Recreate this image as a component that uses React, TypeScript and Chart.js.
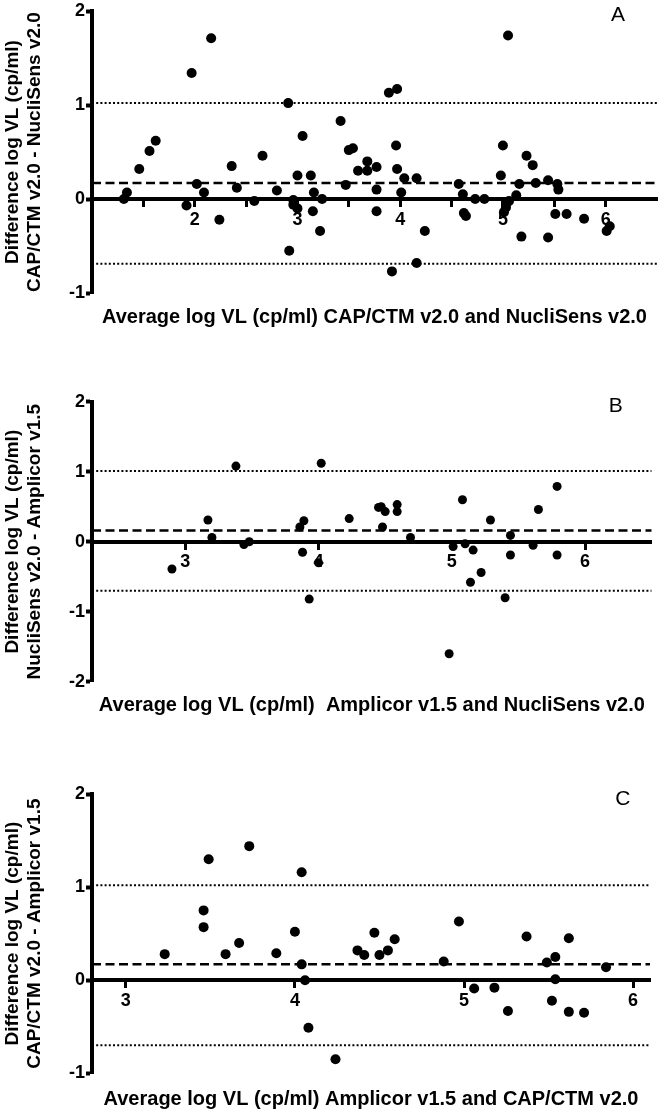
import React, { useEffect, useRef } from "react";
import { Chart, registerables } from "chart.js";

Chart.register(...registerables);

const FONT = "'Liberation Sans', Arial, Helvetica, sans-serif";

// ---------- Panel A: CAP/CTM v2.0 vs NucliSens v2.0 ----------
const aAvg = [1.31, 1.34, 1.46, 1.56, 1.62, 1.92, 1.97, 2.02, 2.09, 2.16, 2.24, 2.36, 2.41, 2.58, 2.66, 2.8, 2.91, 2.92, 2.96, 2.96, 3.0, 3.0, 3.05, 3.13, 3.15, 3.16, 3.22, 3.24, 3.42, 3.47, 3.5, 3.54, 3.59, 3.68, 3.68, 3.77, 3.77, 3.77, 3.89, 3.97, 3.96, 3.97, 4.04, 4.01, 4.16, 3.92, 4.16, 4.24, 4.57, 4.61, 4.62, 4.64, 4.73, 4.82, 4.98, 5.0, 5.05, 5.06, 5.04, 5.03, 5.01, 5.13, 5.16, 5.18, 5.23, 5.29, 5.32, 5.44, 5.44, 5.53, 5.54, 5.51, 5.62, 5.79, 6.01, 6.04];
const aDiff = [0.0, 0.07, 0.32, 0.51, 0.62, -0.07, 1.34, 0.16, 0.07, 1.71, -0.22, 0.35, 0.12, -0.02, 0.46, 0.09, 1.02, -0.55, -0.01, -0.06, -0.1, 0.25, 0.67, 0.25, -0.13, 0.07, -0.34, 0.0, 0.83, 0.15, 0.52, 0.54, 0.3, 0.4, 0.3, 0.34, 0.1, -0.13, 1.13, 1.17, 0.57, 0.32, 0.22, 0.07, 0.22, -0.77, -0.68, -0.34, 0.16, 0.05, -0.15, -0.18, 0.0, 0.0, 0.25, 0.57, 1.74, -0.02, -0.04, -0.09, -0.14, 0.04, 0.16, -0.4, 0.46, 0.36, 0.17, 0.2, -0.41, 0.16, 0.1, -0.16, -0.16, -0.21, -0.34, -0.29];
const aLimits = [0.17, 1.02, -0.69]; // mean difference, upper and lower limits of agreement
const aXRange = [1, 6.5];
const aYRange = [-1, 2];
const aYTitle = ["Difference log VL (cp/ml)", "CAP/CTM v2.0 - NucliSens v2.0"];
const aXTitle = "Average log VL (cp/ml) CAP/CTM v2.0 and NucliSens v2.0";

// ---------- Panel B: NucliSens v2.0 vs Amplicor v1.5 ----------
const bAvg = [2.9, 3.17, 3.2, 3.38, 3.44, 3.48, 3.86, 3.89, 3.88, 4.0, 3.93, 4.02, 4.23, 4.45, 4.47, 4.5, 4.48, 4.59, 4.59, 4.69, 5.01, 5.08, 5.1, 5.16, 5.14, 5.22, 4.98, 5.29, 5.4, 5.44, 5.44, 5.61, 5.65, 5.79, 5.79];
const bDiff = [-0.39, 0.31, 0.06, 1.08, -0.04, 0.0, 0.21, 0.3, -0.15, -0.3, -0.82, 1.12, 0.33, 0.49, 0.5, 0.43, 0.21, 0.53, 0.43, 0.06, -0.07, 0.6, -0.03, -0.12, -0.58, -0.44, -1.6, 0.31, -0.8, 0.09, -0.19, -0.05, 0.46, 0.79, -0.19];
const bLimits = [0.16, 1.01, -0.7];
const bXRange = [2.3, 6.5];
const bYRange = [-2, 2];
const bYTitle = ["Difference log VL (cp/ml)", "NucliSens v2.0 - Amplicor v1.5"];
const bXTitle = "Average log VL (cp/ml)  Amplicor v1.5 and NucliSens v2.0";

// ---------- Panel C: CAP/CTM v2.0 vs Amplicor v1.5 ----------
const cAvg = [3.23, 3.46, 3.46, 3.49, 3.59, 3.67, 3.73, 3.89, 4.0, 4.04, 4.04, 4.06, 4.08, 4.24, 4.37, 4.41, 4.47, 4.5, 4.55, 4.59, 4.88, 4.97, 5.06, 5.18, 5.26, 5.37, 5.49, 5.54, 5.54, 5.52, 5.62, 5.62, 5.71, 5.84];
const cDiff = [0.28, 0.57, 0.75, 1.3, 0.28, 0.4, 1.44, 0.29, 0.52, 1.16, 0.17, 0.0, -0.51, -0.85, 0.32, 0.27, 0.51, 0.27, 0.32, 0.44, 0.2, 0.63, -0.09, -0.08, -0.33, 0.47, 0.19, 0.25, 0.01, -0.22, 0.45, -0.34, -0.35, 0.14];
const cLimits = [0.17, 1.02, -0.7];
const cXRange = [2.8, 6.1];
const cYRange = [-1, 2];
const cYTitle = ["Difference log VL (cp/ml)", "CAP/CTM v2.0 - Amplicor v1.5"];
const cXTitle = "Average log VL (cp/ml) Amplicor v1.5 and CAP/CTM v2.0";

const panelLabel = {
  id: "panelLabel",
  afterDraw(chart: any, _args: any, opts: any) {
    if (!opts || !opts.text) return;
    const { ctx, scales } = chart;
    const px = scales.x.getPixelForValue(opts.x);
    const py = scales.y.getPixelForValue(opts.y);
    ctx.save();
    ctx.font = `normal ${opts.size}px ${FONT}`;
    ctx.fillStyle = "#000";
    ctx.textAlign = "center";
    ctx.textBaseline = "middle";
    ctx.fillText(opts.text, px, py);
    ctx.restore();
  },
};

function refLine(xr: number[], v: number, dash: number[], width: number) {
  return {
    type: "line",
    data: [
      { x: xr[0], y: v },
      { x: xr[1], y: v },
    ],
    borderColor: "#000",
    borderWidth: width,
    borderDash: dash,
    pointRadius: 0,
    fill: false,
    showLine: true,
    order: 2,
  };
}

function makeConfig(p: any) {
  const tickFont = { family: FONT, size: 18, weight: "bold" as const };
  return {
    type: "scatter",
    data: {
      datasets: [
        refLine(p.xr, p.limits[1], [2, 2.2], 2),
        refLine(p.xr, p.limits[2], [2, 2.2], 2),
        refLine(p.xr, p.limits[0], [9, 4.5], 2.5),
        {
          type: "scatter",
          data: p.avg.map((x: number, i: number) => ({ x, y: p.diff[i] })),
          backgroundColor: "#000",
          borderColor: "#000",
          borderWidth: 0,
          pointRadius: p.r,
          order: 1,
        },
      ],
    },
    options: {
      responsive: false,
      animation: false,
      events: [],
      layout: { padding: { left: 0, right: p.padRight, top: p.padTop, bottom: 0 } },
      plugins: {
        legend: { display: false },
        tooltip: { enabled: false },
        title: {
          display: true,
          text: p.xTitle,
          position: "bottom",
          fullSize: false,
          color: "#000",
          font: { family: FONT, size: 20, weight: "bold", lineHeight: 1.2 },
          padding: { top: p.titleTop, bottom: p.titleBottom },
        },
        panelLabel: { text: p.letter, x: p.letterX, y: p.letterY, size: 21 },
      },
      scales: {
        x: {
          type: "linear",
          min: p.xr[0],
          max: p.xr[1],
          position: { y: 0 },
          border: { display: true, color: "#000", width: 4 },
          grid: {
            display: true,
            drawOnChartArea: false,
            drawTicks: true,
            tickLength: 6,
            tickWidth: 3,
            color: "#000",
            tickColor: (c: any) =>
              c.tick && (c.tick.value === p.xr[0] || c.tick.value === p.xr[1]) ? "rgba(0,0,0,0)" : "#000",
          },
          ticks: {
            stepSize: p.xStep,
            includeBounds: false,
            autoSkip: false,
            maxRotation: 0,
            minRotation: 0,
            padding: 4,
            color: "#000",
            font: tickFont,
            callback: (v: number) => (Number.isInteger(v) && v > p.xr[0] && v < p.xr[1] ? String(v) : ""),
          },
          afterFit: (s: any) => {
            s.height = 0;
            s.paddingLeft = 0;
            s.paddingRight = 0;
          },
        },
        y: {
          type: "linear",
          min: p.yr[0],
          max: p.yr[1],
          position: "left",
          border: { display: true, color: "#000", width: 4 },
          grid: {
            display: true,
            drawOnChartArea: false,
            drawTicks: true,
            tickLength: 6,
            tickWidth: 4,
            color: "#000",
            tickColor: "#000",
          },
          ticks: {
            stepSize: 1,
            padding: 1,
            color: "#000",
            font: tickFont,
            callback: (v: number) => String(v),
          },
          title: {
            display: true,
            text: p.yTitle,
            color: "#000",
            font: { family: FONT, size: 19, weight: "bold", lineHeight: 1.14 },
            padding: { top: 2, bottom: 0 },
          },
          afterFit: (s: any) => {
            s.width = 92;
            s.paddingTop = 0;
            s.paddingBottom = 0;
          },
        },
      },
    },
    plugins: [panelLabel],
  };
}

const panels = [
  {
    key: "A", top: 0, height: 340,
    avg: aAvg, diff: aDiff, limits: aLimits, xr: aXRange, yr: aYRange, xStep: 0.5,
    yTitle: aYTitle, xTitle: aXTitle, r: 5,
    padTop: 11, padRight: 5, titleTop: 12, titleBottom: 11,
    letter: "A", letterX: 6.12, letterY: 1.95,
  },
  {
    key: "B", top: 340, height: 390,
    avg: bAvg, diff: bDiff, limits: bLimits, xr: bXRange, yr: bYRange, xStep: 1,
    yTitle: bYTitle, xTitle: bXTitle, r: 4.5,
    padTop: 61.7, padRight: 10.3, titleTop: 11.3, titleBottom: 13,
    letter: "B", letterX: 6.23, letterY: 1.93,
  },
  {
    key: "C", top: 730, height: 383,
    avg: cAvg, diff: cDiff, limits: cLimits, xr: cXRange, yr: cYRange, xStep: 1,
    yTitle: cYTitle, xTitle: cXTitle, r: 5,
    padTop: 64, padRight: 12, titleTop: 13.7, titleBottom: 2,
    letter: "C", letterX: 5.94, letterY: 1.94,
  },
];

function Panel({ p }: { p: any }) {
  const ref = useRef<HTMLCanvasElement | null>(null);
  useEffect(() => {
    if (!ref.current) return;
    const chart = new Chart(ref.current, makeConfig(p) as any);
    return () => chart.destroy();
  }, []);
  return (
    <canvas
      ref={ref}
      width={662}
      height={p.height}
      style={{ position: "absolute", left: 0, top: p.top, width: 662, height: p.height }}
    />
  );
}

export default function App() {
  return (
    <div style={{ position: "absolute", left: 0, top: 0, width: 662, height: 1113, background: "#fff" }}>
      {panels.map((p) => (
        <Panel key={p.key} p={p} />
      ))}
    </div>
  );
}
